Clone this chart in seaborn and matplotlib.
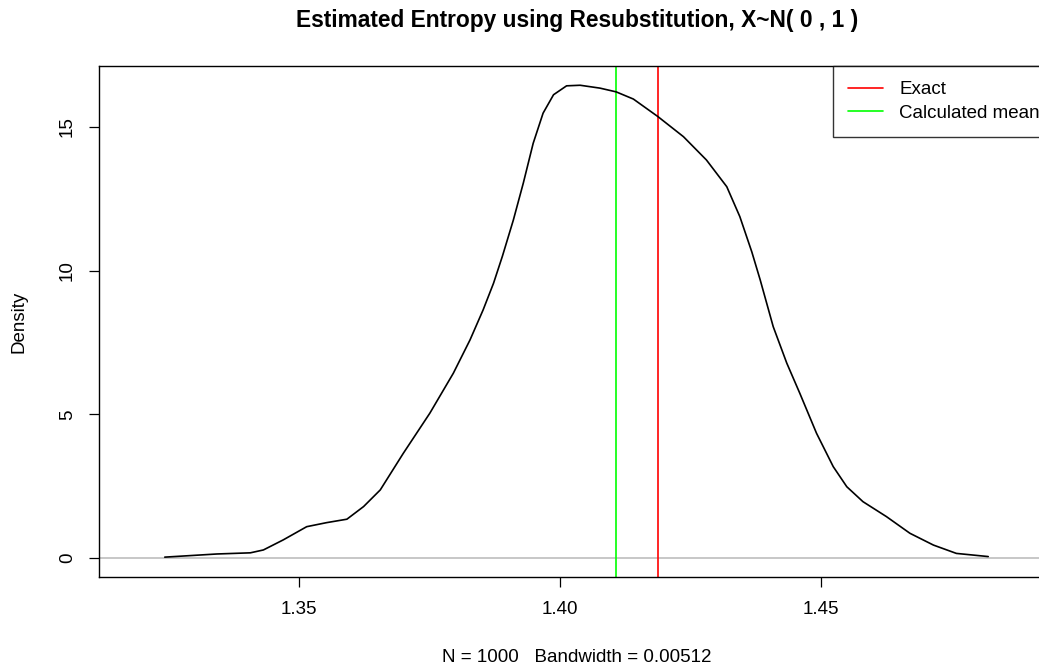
import matplotlib
matplotlib.use("Agg")
import matplotlib.pyplot as plt
import seaborn as sns
import pandas as pd

# Density estimate
x_vals = [1.3243, 1.3343, 1.3407, 1.3432, 1.3470, 1.3515, 1.3553, 1.3592, 1.3624, 1.3656,
          1.3700, 1.3751, 1.3796, 1.3828, 1.3853, 1.3873, 1.3890, 1.3911, 1.3930, 1.3949,
          1.3968, 1.3988, 1.4013, 1.4039, 1.4077, 1.4108, 1.4141, 1.4188, 1.4237, 1.4281,
          1.4320, 1.4345, 1.4368, 1.4384, 1.4409, 1.4435, 1.4460, 1.4492, 1.4524, 1.4550,
          1.4581, 1.4626, 1.4671, 1.4716, 1.4760, 1.4821]
density_vals = [0.03, 0.14, 0.18, 0.28, 0.63, 1.09, 1.23, 1.35, 1.79, 2.37,
                3.64, 5.04, 6.43, 7.59, 8.63, 9.56, 10.50, 11.76, 13.04, 14.43,
                15.48, 16.12, 16.43, 16.45, 16.35, 16.22, 15.97, 15.36, 14.66, 13.85,
                12.92, 11.88, 10.65, 9.68, 8.05, 6.78, 5.73, 4.34, 3.18, 2.48,
                1.96, 1.44, 0.86, 0.45, 0.16, 0.05]

exact_value = 1.4189
calc_mean = 1.4108
legend_labels = ["Exact", "Calculated mean"]
x_ticks = [1.35, 1.40, 1.45]
x_tick_labels = ["1.35", "1.40", "1.45"]
y_ticks = [0, 5, 10, 15]
y_tick_labels = ["0", "5", "10", "15"]

title = "Estimated Entropy using Resubstitution, X~N( 0 , 1 )"
xlabel = "N = 1000   Bandwidth = 0.00512"
ylabel = "Density"

sns.set_theme(style="white")
plt.rcParams['font.family'] = ['Liberation Sans', 'DejaVu Sans']

FS = 13.5
W, H = 1039, 669
fig = plt.figure(figsize=(W / 100, H / 100), dpi=100)
left, right, top, bottom = 98.5, 1055, 66, 577
ax = fig.add_axes([left / W, 1 - bottom / H, (right - left) / W, (bottom - top) / H])

df = pd.DataFrame({"x": x_vals, "density": density_vals})
ax.axhline(0, color="#bebebe", lw=1.2, zorder=1)
sns.lineplot(data=df, x="x", y="density", ax=ax, color="black", lw=1.2, zorder=3)
ax.axvline(exact_value, color="#ff0000", lw=1.2, label=legend_labels[0], zorder=2)
ax.axvline(calc_mean, color="#00ff00", lw=1.2, label=legend_labels[1], zorder=2)

ax.set_xlim(1.3116, 1.4949)
ax.set_ylim(-0.661, 17.12)

ax.set_xticks(x_ticks)
ax.set_xticklabels(x_tick_labels)
ax.set_yticks(y_ticks)
ax.set_yticklabels(y_tick_labels, rotation=90, va="center")

for s in ax.spines.values():
    s.set_color("black")
    s.set_linewidth(1.0)

ax.tick_params(axis="both", which="major", direction="out", length=7.2, width=0.9,
               color="black", labelsize=FS, labelcolor="black",
               bottom=True, left=True)
ax.tick_params(axis="x", pad=10.4)
ax.tick_params(axis="y", pad=9.0)

ax.set_title(title, fontsize=16.4, fontweight="bold", pad=28, color="black")
ax.set_xlabel(xlabel, fontsize=FS, color="black")
ax.set_ylabel(ylabel, fontsize=FS, color="black")
ax.xaxis.set_label_coords(0.5, -0.140)
ax.yaxis.set_label_coords(-0.074, 0.5)

leg = ax.legend(loc="upper right", bbox_to_anchor=(1, 1), borderaxespad=0,
                fontsize=FS, frameon=True, fancybox=False, edgecolor="black",
                handlelength=1.9, handletextpad=0.85, labelspacing=0.36,
                borderpad=0.8)
leg.get_frame().set_linewidth(1.0)
for t in leg.get_texts():
    t.set_color("black")

fig.savefig("out.png", dpi=100)
